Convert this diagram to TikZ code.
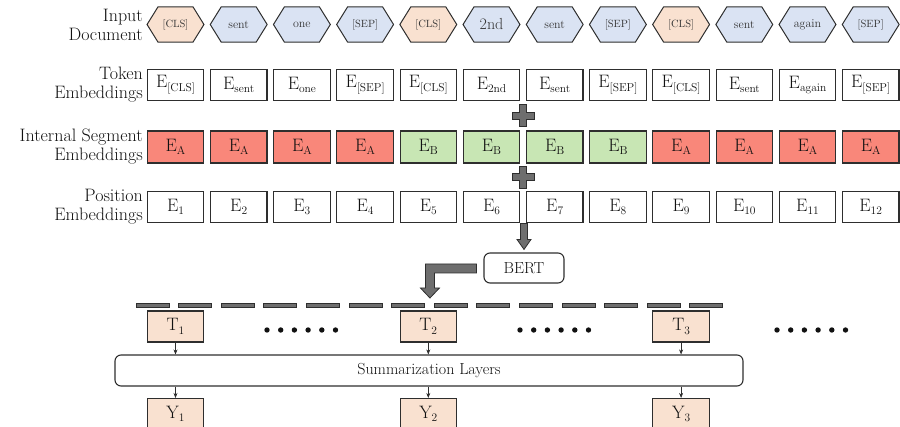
\documentclass[tikz,border=0pt]{standalone}
\usepackage{fontspec}
\usetikzlibrary{calc,backgrounds,arrows.meta}
\definecolor{peach}{HTML}{F9E1D0}
\definecolor{lblue}{HTML}{DAE3F3}
\definecolor{salm}{HTML}{F9877A}
\definecolor{lgreen}{HTML}{C8E6B4}
\definecolor{dgray}{HTML}{6E6E6E}
\definecolor{edge}{HTML}{2E2E2E}
\definecolor{ink}{HTML}{111111}
\newcommand{\Sub}[2]{#1\raisebox{-3.5pt}{\fontsize{11.5}{11.5}\selectfont #2}}
\begin{document}
\begin{tikzpicture}[x=1pt,y=-1pt,
 lbl/.style={anchor=east, align=right, font=\fontsize{18}{19}\selectfont, text=ink, inner sep=0pt},
 hexn/.style={minimum width=56.5pt, minimum height=35pt, inner sep=0pt, text=ink!85},
 hexline/.style={draw=edge, line width=1pt},
 ebox/.style={draw=edge, line width=1.1pt, minimum width=56.5pt, minimum height=31pt, inner sep=0pt, text=ink, font=\fontsize{18}{18}\selectfont},
 tbox/.style={ebox, fill=peach},
 gplus/.style={fill=dgray, draw=edge, line width=0.8pt},
 rbox/.style={draw=edge, line width=1.1pt, rounded corners=6pt, text=ink, font=\fontsize{16}{16}\selectfont},
 thinarrow/.style={-{Stealth[length=5pt,width=4pt]}, line width=0.5pt, draw=edge},
 dashbox/.style={fill=dgray, draw=edge, line width=0.7pt},
]
\useasboundingbox (0,0) rectangle (900,427);

% labels
\node[lbl] (l1) at (143,25) {Input\\Document};
\node[lbl] (l2) at (143,85) {Token\\Embeddings};
\node[lbl] (l3) at (143,147) {Internal Segment\\Embeddings};
\node[lbl] (l4) at (143,207) {Position\\Embeddings};

% input hexagons
\foreach \t/\c/\fs [count=\i from 0] in {{[CLS]}/peach/10.5, sent/lblue/12, one/lblue/12, {[SEP]}/lblue/10.5, {[CLS]}/peach/10.5, 2nd/lblue/16, sent/lblue/12, {[SEP]}/lblue/10.5, {[CLS]}/peach/10.5, sent/lblue/12, again/lblue/12, {[SEP]}/lblue/10.5} {
  \node[hexn, font=\fontsize{\fs}{\fs}\selectfont] (h\i) at ({175.5+63.2*\i},24.5) {\t};
  \begin{scope}[on background layer]
  \draw[hexline, fill=\c] (h\i.west) -- ([xshift=11pt]h\i.north west) -- ([xshift=-11pt]h\i.north east) -- (h\i.east) -- ([xshift=-11pt]h\i.south east) -- ([xshift=11pt]h\i.south west) -- cycle;
  \end{scope}
}

% token embeddings
\foreach \t [count=\i from 0] in {{[CLS]},sent,one,{[SEP]},{[CLS]},2nd,sent,{[SEP]},{[CLS]},sent,again,{[SEP]}}
  \node[ebox] (tok\i) at ({175.5+63.2*\i},85) {\Sub{E}{\t}};

% segment embeddings
\foreach \t/\c [count=\i from 0] in {A/salm,A/salm,A/salm,A/salm,B/lgreen,B/lgreen,B/lgreen,B/lgreen,A/salm,A/salm,A/salm,A/salm}
  \node[ebox, fill=\c, minimum height=32pt] (seg\i) at ({175.5+63.2*\i},147) {\Sub{E}{\t}};

% position embeddings
\foreach \i in {0,...,11} {
  \pgfmathtruncatemacro{\n}{\i+1}
  \node[ebox] (pos\i) at ({175.5+63.2*\i},207) {\Sub{E}{\n}};
}

% plus signs
\coordinate (p1) at ($(tok5.south east)!0.5!(seg6.north west)$);
\coordinate (p2) at ($(seg5.south east)!0.5!(pos6.north west)$);
\foreach \p in {p1,p2}
  \draw[gplus, shift={(\p)}] (-3.5,-11) -- (3.5,-11) -- (3.5,-3.5) -- (11,-3.5) -- (11,3.5) -- (3.5,3.5) -- (3.5,11) -- (-3.5,11) -- (-3.5,3.5) -- (-11,3.5) -- (-11,-3.5) -- (-3.5,-3.5) -- cycle;

% BERT
\node[rbox, minimum width=80pt, minimum height=30pt] (bert) at (524,268) {BERT};

% thick arrow down into BERT
\draw[gplus] ($(bert.north)+(-3.5,-29)$) -- ++(7,0) -- ++(0,16) -- ++(3.5,0) -- ($(bert.north)+(0,-3)$) -- ++(-7,-10) -- ++(3.5,0) -- cycle;

% L-shaped arrow out of BERT
\draw[gplus] ($(bert.west)+(-7,-4)$) -- ++(-51,0) -- ++(0,24) -- ++(-5,0) -- ++(9.5,10) -- ++(9.5,-10) -- ++(-5,0) -- ++(0,-15) -- ++(42,0) -- cycle;

% dashed output bar
\foreach \k in {0,...,13}
  \draw[dashbox] ({136+42.6*\k},303.2) rectangle ++(33,4.5);

% T boxes
\node[tbox] (t1) at (175.5,326.5) {\Sub{T}{1}};
\node[tbox] (t2) at (428.3,326.5) {\Sub{T}{2}};
\node[tbox] (t3) at (681.1,326.5) {\Sub{T}{3}};

% dots
\foreach \s in {267,520,777}
  \foreach \j in {0,...,5}
    \fill[ink] ({\s+13.7*\j},330) circle (2.7pt);

% summarization
\node[rbox, minimum width=628pt, minimum height=31pt] (summ) at (429,370.5) {Summarization Layers};

% Y boxes
\node[tbox] (y1) at (175.5,414) {\Sub{Y}{1}};
\node[tbox] (y2) at (428.3,414) {\Sub{Y}{2}};
\node[tbox] (y3) at (681.1,414) {\Sub{Y}{3}};

\foreach \k in {1,2,3} {
  \draw[thinarrow] (t\k) -- (t\k |- summ.north);
  \draw[thinarrow] (t\k |- summ.south) -- (y\k);
}
\end{tikzpicture}
\end{document}
